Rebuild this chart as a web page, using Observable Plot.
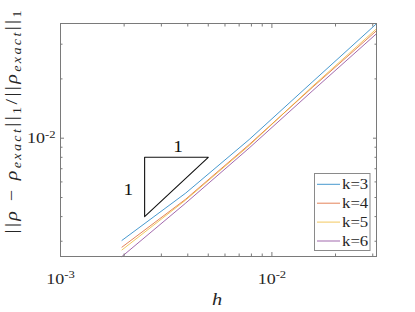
<!DOCTYPE html>
<html><head><meta charset="utf-8">
<script src="https://cdn.jsdelivr.net/npm/d3@7"></script>
<script src="https://cdn.jsdelivr.net/npm/@observablehq/plot@0.6"></script>
<style>body{margin:0;background:#fff} svg text, svg tspan{font-family:"Liberation Serif","Times New Roman",serif !important;}</style>
</head><body><div id="chart"></div>
<script>
// ---- data ----
const h = [1/512, 1/256, 1/128, 1/64, 1/32];
const errK3 = [3.03e-3, 5.26e-3, 9.85e-3, 1.940e-2, 3.81e-2];
const errK4 = [2.80e-3, 4.90e-3, 9.29e-3, 1.820e-2, 3.51e-2];
const errK5 = [2.71e-3, 4.85e-3, 9.18e-3, 1.841e-2, 3.59e-2];
const errK6 = [2.51e-3, 4.68e-3, 8.92e-3, 1.746e-2, 3.39e-2];
const seriesNames = ["k=3", "k=4", "k=5", "k=6"];
const seriesColors = ["#0072BD", "#D95319", "#EDB120", "#7E2F8E"];
const xMajor = [1e-3, 1e-2];
const xMinor = [2e-3, 3e-3, 4e-3, 5e-3, 6e-3, 7e-3, 8e-3, 9e-3, 2e-2, 3e-2];
const yMajor = [1e-2];
const yMinor = [3e-3, 4e-3, 5e-3, 6e-3, 7e-3, 8e-3, 9e-3, 2e-2, 3e-2];
const xDomain = [1e-3, 1/32];
const yDomain = [2.51e-3, 3.82e-2];
const triX = [2.5e-3, 5e-3, 2.5e-3, 2.5e-3];
const triY = [8e-3, 8e-3, 4e-3, 8e-3];
const slopeLabelX = [3.6e-3, 2.09e-3];
const slopeLabelY = [9.0e-3, 5.47e-3];
const slopeLabelText = ["1", "1"];

const allErr = [errK3, errK4, errK5, errK6];
const rows = seriesNames.flatMap((k, i) => h.map((hv, j) => ({h: hv, err: allErr[i][j], k})));
const tri = triX.map((x, i) => ({x, y: triY[i]}));
const slopeLabels = slopeLabelX.map((x, i) => ({x, y: slopeLabelY[i], text: slopeLabelText[i]}));

const axisColor = "#7a7a7a";
const expFmt = d => String(Math.round(Math.log10(d)));
const FONT = "'Liberation Serif', 'Times New Roman', serif";

const chart = Plot.plot({
  width: 415, height: 312,
  marginLeft: 60, marginRight: 39, marginTop: 23, marginBottom: 56,
  x: {type: "log", domain: xDomain},
  y: {type: "log", domain: yDomain},
  color: {domain: seriesNames, range: seriesColors},
  style: `font-family: ${FONT}; font-size: 15px; background: #fff; color: #262626;`,
  marks: [
    Plot.line(rows, {x: "h", y: "err", z: "k", stroke: "k", strokeWidth: 1, strokeOpacity: 0.72}),
    Plot.line(tri, {x: "x", y: "y", stroke: "#111", strokeWidth: 1.1}),
    Plot.text(slopeLabels, {x: "x", y: "y", text: "text", fontSize: 16, fill: "#111"}),
    Plot.axisX({anchor: "bottom", ticks: xMajor, tickSize: -4, tickPadding: 20.5, tickFormat: expFmt, label: null, stroke: axisColor, fill: "#262626"}),
    Plot.axisX({anchor: "bottom", ticks: xMinor, tickSize: -2.5, fill: "none", label: null, stroke: axisColor}),
    Plot.axisX({anchor: "top", ticks: xMajor, tickSize: -4, fill: "none", label: null, stroke: axisColor}),
    Plot.axisX({anchor: "top", ticks: xMinor, tickSize: -2.5, fill: "none", label: null, stroke: axisColor}),
    Plot.axisY({anchor: "left", ticks: yMajor, tickSize: -4, tickPadding: 9, tickFormat: expFmt, label: null, stroke: axisColor, fill: "#262626"}),
    Plot.axisY({anchor: "left", ticks: yMinor, tickSize: -2.5, fill: "none", label: null, stroke: axisColor}),
    Plot.axisY({anchor: "right", ticks: yMajor, tickSize: -4, fill: "none", label: null, stroke: axisColor}),
    Plot.axisY({anchor: "right", ticks: yMinor, tickSize: -2.5, fill: "none", label: null, stroke: axisColor}),
    Plot.frame({stroke: axisColor})
  ]
});
document.getElementById("chart").append(chart);
const svg = d3.select(chart);
svg.attr("font-family", FONT);

// superscript exponents on tick labels
svg.selectAll('g[aria-label="x-axis tick label"] text, g[aria-label="y-axis tick label"] text').each(function () {
  const el = d3.select(this);
  const e = el.text();
  el.text(null);
  el.append("tspan").text("10");
  el.append("tspan").attr("dy", "-0.5em").attr("font-size", "10.5px").text(e);
});

// x label
svg.append("text").attr("x", 217).attr("y", 305).attr("text-anchor", "middle")
  .attr("font-size", 17).attr("font-style", "italic").attr("fill", "#262626").text("h");

// legend
const lg = svg.append("g");
lg.append("rect").attr("x", 314.5).attr("y", 173.5).attr("width", 55.5).attr("height", 77)
  .attr("fill", "#fff").attr("stroke", "#8a8a8a");
seriesNames.forEach((name, i) => {
  const cy = 184.3 + i * 18.9;
  lg.append("line").attr("x1", 317).attr("x2", 340).attr("y1", cy).attr("y2", cy)
    .attr("stroke", seriesColors[i]).attr("stroke-opacity", 0.72).attr("stroke-width", 1);
  lg.append("text").attr("x", 342).attr("y", cy).attr("dy", "0.35em").attr("font-size", 14)
    .attr("text-anchor", "start").attr("fill", "#262626").text(name);
});

// horizontal stretch of text to match reference
svg.selectAll("text").each(function () {
  const w = this.getComputedTextLength();
  if (w > 0) d3.select(this).attr("textLength", w * 1.2).attr("lengthAdjust", "spacingAndGlyphs");
});

// y label (rotated)
const yl = svg.append("text").attr("transform", "translate(16.5,122) scale(0.85,1) rotate(-90)")
  .attr("text-anchor", "middle").attr("font-size", 20).attr("fill", "#262626");
const parts = [
  ["||", 0, false], ["ρ", 0, true], [" − ", 0, false], ["ρ", 0, true], ["exact", 1, true],
  ["||", -1, false], ["1", 1, false], ["/||", -1, false], ["ρ", 0, true], ["exact", 1, true],
  ["||", -1, false], ["1", 1, false]
];
parts.forEach(([t, shift, it]) => {
  const sp = yl.append("tspan").text(t);
  if (shift === 1) sp.attr("dy", 5).attr("font-size", 14);
  if (shift === -1) sp.attr("dy", -5);
  if (it) sp.attr("font-style", "italic");
});
yl.attr("textLength", 223).attr("lengthAdjust", "spacing");
</script>
</body></html>
